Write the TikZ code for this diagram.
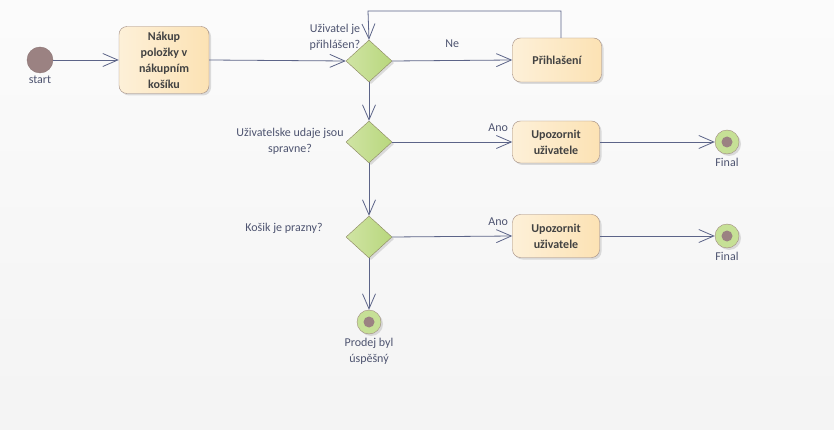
\documentclass[tikz,border=0pt]{standalone}
\usepackage{fontspec}
\setmainfont{Carlito}
\usetikzlibrary{positioning,shapes.geometric,arrows.meta,shadows}
\definecolor{linec}{RGB}{92,100,136}
\definecolor{txtc}{RGB}{78,84,112}
\definecolor{boxtxt}{RGB}{66,66,66}
\definecolor{boxl}{RGB}{253,240,216}
\definecolor{boxr}{RGB}{252,226,180}
\definecolor{boxd}{RGB}{160,138,128}
\definecolor{diaml}{RGB}{208,228,164}
\definecolor{diamr}{RGB}{184,215,125}
\definecolor{diamd}{RGB}{140,134,98}
\definecolor{startc}{RGB}{155,130,130}
\definecolor{finc}{RGB}{198,224,150}
\begin{document}
\begin{tikzpicture}[x=1pt, y=-1pt, font=\fontsize{12}{16}\selectfont,
    shad/.style = {drop shadow={shadow xshift=2pt, shadow yshift=-2pt, opacity=0.25}},
    action/.style = {draw=boxd, rounded corners=8pt, left color=boxl, right color=boxr, shad,
        text=boxtxt, font=\fontsize{12}{16}\selectfont\bfseries, align=center, inner sep=2pt},
    decision/.style = {draw=diamd, diamond, left color=diaml, right color=diamr, shad,
        minimum width=46pt, minimum height=42pt, inner sep=0pt},
    initial/.style = {draw=startc!90!black, circle, fill=startc, minimum size=26pt, inner sep=0pt},
    final/.style = {draw=boxd, circle, fill=finc, minimum size=24pt, inner sep=0pt, shad,
        path picture={\fill[startc] (path picture bounding box.center) circle (5.5pt);}},
    lbl/.style = {text=txtc, align=center, inner sep=1pt},
    arr/.style = {draw=linec, thick, -{Straight Barb[length=15pt, width=13pt]}}]
    % background
    \path[use as bounding box, top color=white!97!gray, bottom color=white!91!gray] (0,0) rectangle (834,430);
    % nodes
    \node[initial] (start) at (40,60) {};
    \node[lbl, below=2pt of start] (startlbl) {start};
    \node[action, minimum width=90pt, minimum height=67pt] (nakup) at (164,60) {Nákup\\položky v\\nákupním\\košíku};
    \node[decision] (d1) at (369,61) {};
    \node[lbl] (d1lbl) at (335,37) {Uživatel je\\přihlášen?};
    \node[action, minimum width=89pt, minimum height=44pt] (prihl) at (557,60) {Přihlašení};
    \coordinate (loop) at (368,11);
    \node[decision] (d2) at (369,142) {};
    \node[lbl] (d2lbl) at (290,141) {Uživatelske udaje jsou\\spravne?};
    \node[action, minimum width=87pt, minimum height=42pt] (up1) at (556,142) {Upozornit\\uživatele};
    \node[final] (fin1) at (727,142) {};
    \node[lbl, below=3pt of fin1] (fin1lbl) {Final};
    \node[decision] (d3) at (369,237) {};
    \node[lbl] (d3lbl) at (284,228) {Košik je prazny?};
    \node[action, minimum width=87pt, minimum height=43pt] (up2) at (556,236) {Upozornit\\uživatele};
    \node[final] (fin2) at (727,236) {};
    \node[lbl, below=3pt of fin2] (fin2lbl) {Final};
    \node[final] (fin3) at (369,322) {};
    \node[lbl, below=3pt of fin3] (fin3lbl) {Prodej byl\\úspěšný};
    % connectors
    \draw[arr] (start) -- (nakup);
    \draw[arr] (nakup.east) -- (d1.west);
    \draw[arr] (d1.east) -- node[lbl, above, pos=0.5, yshift=12pt] {Ne} (prihl.west);
    \draw[arr] ([xshift=4pt]prihl.north) |- (loop) -- (d1.north);
    \draw[arr] (d1.south) -- (d2.north);
    \draw[arr] (d2.east) -- node[lbl, above left, pos=1, xshift=-3pt, yshift=9pt] {Ano} (up1.west);
    \draw[arr] (up1.east) -- (fin1.west);
    \draw[arr] (d2.south) -- (d3.north);
    \draw[arr] (d3.east) -- node[lbl, above left, pos=1, xshift=-3pt, yshift=9pt] {Ano} (up2.west);
    \draw[arr] (up2.east) -- (fin2.west);
    \draw[arr] (d3.south) -- (fin3.north);
\end{tikzpicture}
\end{document}
